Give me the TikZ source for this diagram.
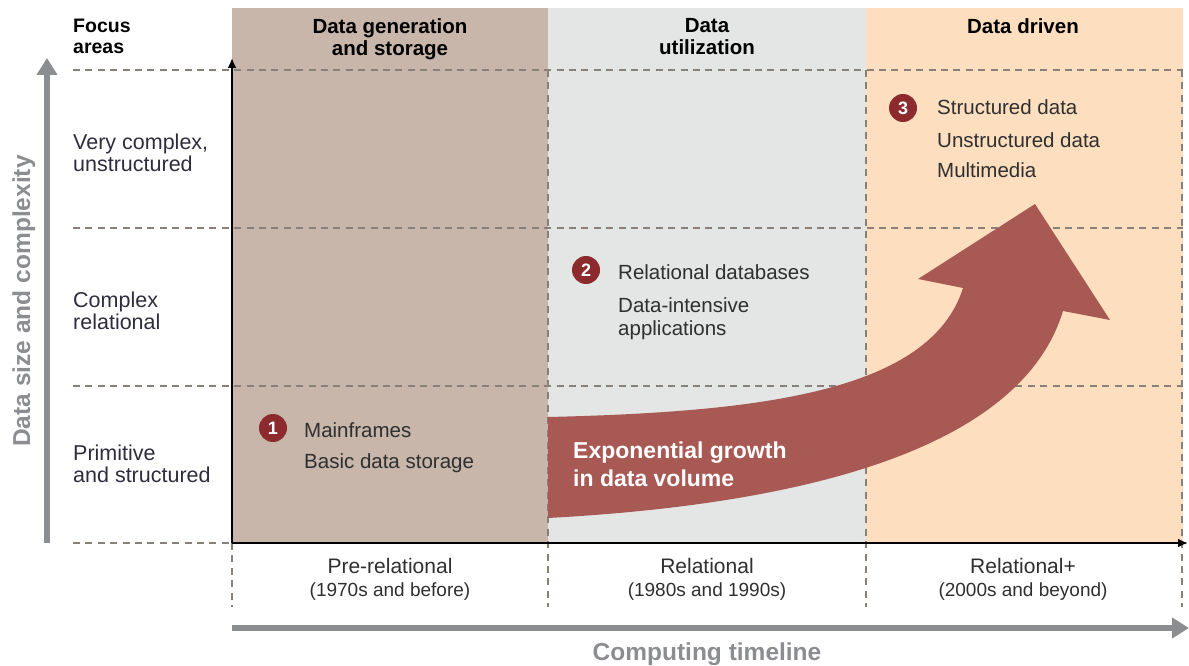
\documentclass[tikz,border=0pt]{standalone}
\usepackage{fontspec}
\setmainfont{Liberation Sans}
\usetikzlibrary{positioning}
\usetikzlibrary{arrows.meta}
\definecolor{genbrown}{HTML}{C7B6A9}
\definecolor{usegray}{HTML}{E3E6E4}
\definecolor{drvpeach}{HTML}{FDDFC0}
\definecolor{growred}{HTML}{A85954}
\definecolor{badgered}{HTML}{8C2A2E}
\definecolor{axisgray}{HTML}{8C8D90}
\definecolor{dashgray}{HTML}{87817A}
\definecolor{rowtext}{HTML}{2E2D3D}
\definecolor{itemtext}{HTML}{2F2F2F}
\tikzset{
    mybadge/.style = {circle, fill=badgered, inner sep=0pt, minimum size=28pt, font=\fontsize{18}{18}\selectfont\bfseries, text=white},
    myitem/.style = {anchor=base west, inner sep=0pt, align=left, font=\fontsize{20.5}{23}\selectfont, text=itemtext},
    myrow/.style = {anchor=north west, inner sep=0pt, align=left, font=\fontsize{21.5}{21.5}\selectfont, text=rowtext},
    myhead/.style = {anchor=north, inner sep=0pt, align=center, font=\fontsize{20.5}{22}\selectfont\bfseries, text=black},
    myera/.style = {anchor=base, inner sep=0pt, font=\fontsize{21}{21}\selectfont, text=itemtext},
    myperiod/.style = {anchor=base, inner sep=0pt, font=\fontsize{19}{19}\selectfont, text=itemtext},
    myaxis/.style = {anchor=base, inner sep=0pt, font=\fontsize{24.5}{24.5}\selectfont\bfseries, text=axisgray},
    edgedash/.style = {-, line width=2pt, dashgray, dash pattern=on 7pt off 5.4pt},
    edgeaxis/.style = {-{Latex[length=10pt,width=9pt]}, line width=2pt, black},
    edgegray/.style = {-{Triangle[length=17pt,width=20pt]}, line width=5.5pt, axisgray},
}
\begin{document}
\begin{tikzpicture}[x=1pt,y=-1pt]
\useasboundingbox (0,0) rectangle (1189,666);
%
\fill[genbrown] (232,8) rectangle (548,543);
\fill[usegray] (548,8) rectangle (866,543);
\fill[drvpeach] (866,8) rectangle (1183,543);
%
\draw[edgedash] (73,70) -- (1183,70);
\draw[edgedash] (73,228) -- (1183,228);
\draw[edgedash] (73,386) -- (1183,386);
\draw[edgedash] (73,543) -- (1183,543);
\draw[edgedash] (232,543) -- (232,607);
\draw[edgedash] (548,70) -- (548,607);
\draw[edgedash] (866,70) -- (866,607);
\draw[edgedash] (1182,70) -- (1182,607);
%
\fill[growred] (548,417) .. controls (760,412) and (930,392) .. (963,288)
  -- (918,279) -- (1035,204) -- (1110,320) -- (1063,311)
  .. controls (1030,420) and (880,500) .. (548,518) -- cycle;
\node[anchor=base west, inner sep=0pt, align=left, font=\fontsize{23}{28}\selectfont\bfseries, text=white] at (573,486) (grow) {Exponential growth\\in data volume};
%
\coordinate (o) at (232,543);
\coordinate (ytop) at (232,58);
\coordinate (xend) at (1188,543);
\coordinate (gy0) at (47,543);
\coordinate (gy1) at (47,58);
\coordinate (gx0) at (232,628);
\coordinate (gx1) at (1189,628);
\draw[edgeaxis] (o) -- (ytop);
\draw[edgeaxis] (o) -- (xend);
\draw[edgegray] (gy0) -- (gy1);
\draw[edgegray] (gx0) -- (gx1);
%
\node[myhead, anchor=north west, font=\fontsize{19.5}{21}\selectfont\bfseries, align=left] at (73,19) (focus) {Focus\\areas};
\node[myhead] at (390,18) (hgen) {Data generation\\and storage};
\node[myhead] at (707,18) (huse) {Data\\utilization};
\node[myhead] at (1023,18) (hdrv) {Data driven};
%
\node[myrow] at (73,134) (rvery) {Very complex,\\unstructured};
\node[myrow] at (73,292) (rcomp) {Complex\\relational};
\node[myrow] at (73,445) (rprim) {Primitive\\and structured};
%
\node[mybadge] at (273,428) (b1) {1};
\node[myitem] at (304,437) (i1a) {Mainframes};
\node[myitem] at (304,468) (i1b) {Basic data storage};
%
\node[mybadge] at (586,270) (b2) {2};
\node[myitem] at (618,279) (i2a) {Relational databases};
\node[myitem, anchor=north west] at (618,297) (i2b) {Data-intensive\\applications};
%
\node[mybadge] at (903,108) (b3) {3};
\node[myitem] at (937,115) (i3a) {Structured data};
\node[myitem] at (937,148) (i3b) {Unstructured data};
\node[myitem] at (937,178) (i3c) {Multimedia};
%
\node[myera] at (390,573) (egen) {Pre-relational};
\node[myperiod] at (390,596) (pgen) {(1970s and before)};
\node[myera] at (707,573) (euse) {Relational};
\node[myperiod] at (707,596) (puse) {(1980s and 1990s)};
\node[myera] at (1023,573) (edrv) {Relational+};
\node[myperiod] at (1023,596) (pdrv) {(2000s and beyond)};
%
\node[myaxis] at (707,660) (xlab) {Computing timeline};
\node[myaxis, rotate=90] at (30,301) (ylab) {Data size and complexity};
\end{tikzpicture}
\end{document}
